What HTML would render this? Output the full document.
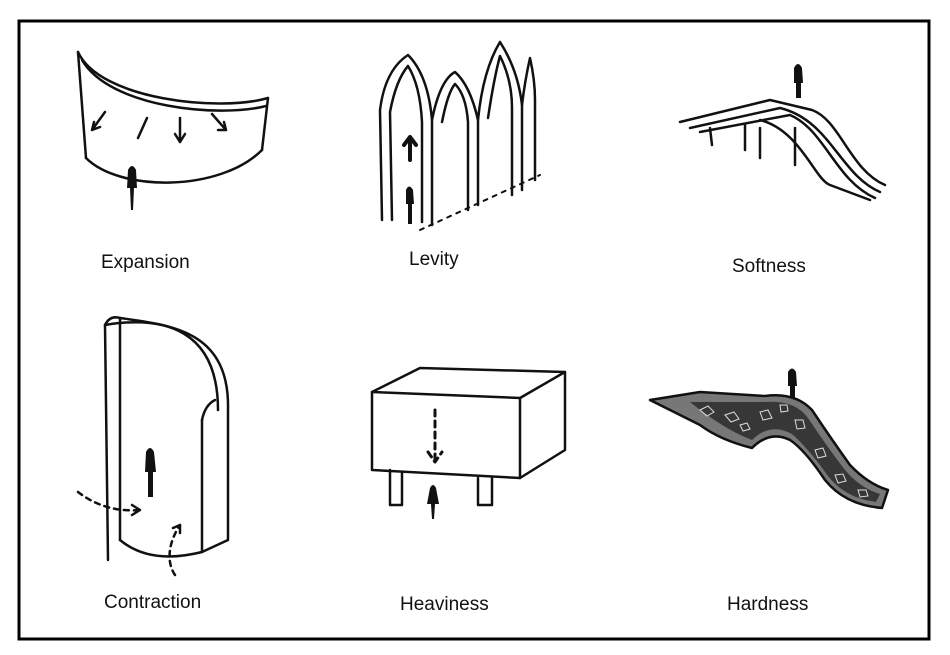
<!DOCTYPE html>
<html><head><meta charset="utf-8"><style>
html,body{margin:0;padding:0;background:#fff;}
svg{display:block}
text{font-family:"Liberation Sans",sans-serif;font-size:19px;fill:#111;}
</style></head><body>
<svg width="950" height="655" viewBox="0 0 950 655" xmlns="http://www.w3.org/2000/svg">
<rect x="0" y="0" width="950" height="655" fill="#fff"/>
<rect x="19" y="21" width="910" height="618" fill="none" stroke="#000" stroke-width="3"/>
<g fill="none" stroke="#111" stroke-width="2.5" stroke-linecap="round" stroke-linejoin="round">
<!-- Expansion -->
<path d="M78,52 C100,100 220,112 268,98"/>
<path d="M82,60 C110,108 220,118 266,106"/>
<path d="M78,52 L86,158"/>
<path d="M268,98 L262,150"/>
<path d="M86,158 C120,192 220,192 262,150"/>
<path d="M105,112 L92,130 M92,130 l2,-8 M92,130 l8,-3"/>
<path d="M147,118 L138,138"/>
<path d="M180,118 L180,142 M175,134 l5,8 l5,-8"/>
<path d="M212,114 L226,130 M226,130 l-2,-8 M226,130 l-8,0"/>
<!-- Levity arches -->
<path d="M382,220 L380,110 Q385,70 408,55 Q428,75 432,120 L432,225"/>
<path d="M392,220 L390,112 Q396,80 408,66 Q420,85 422,122 L422,222"/>
<path d="M432,120 Q440,80 455,72 Q470,85 478,120 L478,205"/>
<path d="M442,122 Q448,92 455,84 Q466,95 468,122 L468,210"/>
<path d="M478,120 Q483,70 500,42 Q518,70 522,105 L522,190"/>
<path d="M488,118 Q494,78 500,56 Q512,80 512,108 L512,195"/>
<path d="M522,105 Q525,80 530,58 Q535,80 535,100 L535,180"/>
<path d="M420,230 L540,175" stroke-dasharray="4,6" stroke-width="2"/>
<path d="M410,160 L410,138 M404,145 l6,-8 l6,8" stroke-width="4"/>
<!-- Softness -->
<path d="M680,122 L770,100 L812,110 C840,120 850,170 885,185"/>
<path d="M690,128 L780,108 C830,120 840,175 880,192"/>
<path d="M700,132 L790,115 C825,130 835,180 875,198"/>
<path d="M760,120 C800,130 815,180 830,185 L870,200"/>
<path d="M710,128 L712,145 M745,124 L745,150 M760,128 L760,158 M795,128 L795,165"/>
<!-- Contraction -->
<path d="M105,325 L108,560"/>
<path d="M105,325 Q110,315 120,318 L120,540"/>
<path d="M120,318 C170,325 230,330 228,410 L228,540 L202,552 L202,420"/>
<path d="M105,325 C165,315 218,330 218,410"/>
<path d="M202,420 Q205,405 215,400"/>
<path d="M120,540 Q150,565 202,552"/>
<path d="M78,492 C95,505 115,512 140,510" stroke-dasharray="5,5"/>
<path d="M140,510 l-8,-5 M140,510 l-8,5"/>
<path d="M175,575 C165,560 170,540 180,525" stroke-dasharray="5,5"/>
<path d="M180,525 l-7,3 M180,525 l0,8"/>
<!-- Heaviness -->
<path d="M372,392 L420,368 L565,372 L520,398 L372,392 Z"/>
<path d="M372,392 L372,470 L520,478 L520,398"/>
<path d="M565,372 L565,450 L520,478"/>
<path d="M390,470 L390,505 L402,505 L402,472"/>
<path d="M478,478 L478,505 L492,505 L492,478"/>
<path d="M435,410 L435,460 M428,452 l7,10 l7,-10" stroke-dasharray="6,5" stroke-width="3"/>
<!-- Hardness -->
<path d="M650,400 L700,392 L765,396 Q795,392 812,410 Q832,440 850,465 Q868,484 888,490 L882,508 Q845,505 825,480 Q805,450 790,440 Q770,430 752,448 Q720,440 700,425 Z" fill="#777"/>
</g>
<g fill="#222" opacity="0.75">
<path d="M690,402 L765,402 Q795,400 808,418 Q828,448 845,470 Q860,488 880,494 L876,502 Q845,498 828,476 Q808,448 792,434 Q770,422 752,440 Q725,430 690,402 Z"/>
</g>
<g fill="none" stroke="#ddd" stroke-width="1">
<path d="M700,410 l8,-4 l6,6 l-7,4 z M725,415 l9,-3 l5,7 l-8,3 z M760,412 l8,-2 l4,8 l-9,2 z M795,420 l8,0 l2,8 l-8,1 z M815,450 l8,-2 l3,8 l-8,2 z M835,475 l8,-1 l3,7 l-8,2 z M858,490 l8,0 l2,6 l-8,1 z M740,425 l7,-2 l3,6 l-7,2 z M780,405 l7,0 l1,6 l-7,1 z"/>
</g>
<g fill="#111">
<path d="M128,170 q4,-8 8,0 l1,18 l-3,0 l-1,22 l-2,0 l-1,-22 l-3,0 z"/>
<path d="M406,190 q3,-7 7,0 l1,14 l-2,0 l0,20 l-4,0 l0,-20 l-2,0 z"/>
<path d="M794,68 q4,-8 8,0 l1,15 l-2,0 l0,15 l-5,0 l0,-15 l-2,0 z"/>
<path d="M146,452 q4,-8 8,0 l2,20 l-3,0 l0,25 l-5,0 l0,-25 l-3,0 z"/>
<path d="M430,488 q3,-6 6,0 l3,16 l-4,0 l-1,15 l-2,0 l-1,-15 l-4,0 z"/>
<path d="M788,372 q4,-7 8,0 l1,14 l-2,0 l0,12 l-5,0 l0,-12 l-2,0 z"/>
</g>
<text x="101" y="268">Expansion</text>
<text x="409" y="265">Levity</text>
<text x="732" y="272">Softness</text>
<text x="104" y="608">Contraction</text>
<text x="400" y="610">Heaviness</text>
<text x="727" y="610">Hardness</text>
</svg>
</body></html>
